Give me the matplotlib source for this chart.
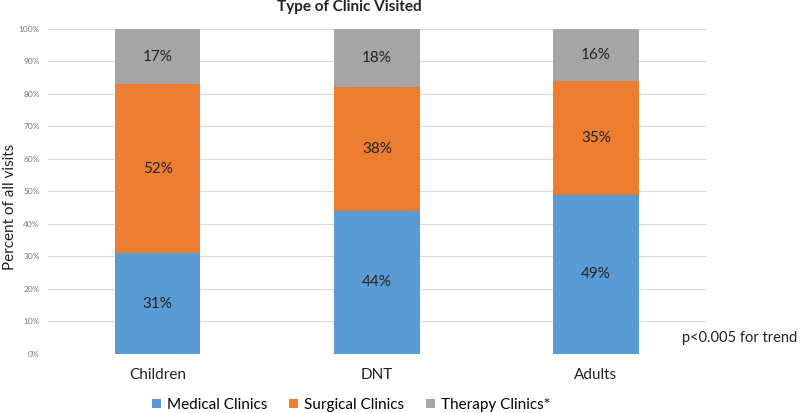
import matplotlib.pyplot as plt
import numpy as np

# data
groups = ['Children', 'DNT', 'Adults']
medical = [31, 44, 49]
surgical = [52, 38, 35]
therapy = [17, 18, 16]
series_names = ['Medical Clinics', 'Surgical Clinics', 'Therapy Clinics*']
colors = ['#5B9BD5', '#ED7D31', '#A5A5A5']

plt.rcParams['font.family'] = ['Lato', 'DejaVu Sans']

fig = plt.figure(figsize=(8, 4.13), dpi=100)
ax = fig.add_axes([0.06, 0.143, 0.822, 0.787])

x = np.arange(len(groups))
bottom = np.zeros(len(groups))
for name, vals, col in zip(series_names, [medical, surgical, therapy], colors):
    vals = np.array(vals, dtype=float)
    ax.bar(x, vals, 0.39, bottom=bottom, color=col, label=name, zorder=2)
    for xi, b, v in zip(x, bottom, vals):
        ax.text(xi, b + v / 2, f'{int(v)}%', ha='center', va='center',
                fontsize=11, color='#222222', zorder=3)
    bottom += vals

ax.set_xlim(-0.5, 2.5)
ax.set_ylim(0, 100)
ax.set_yticks(range(0, 101, 10))
ax.set_yticklabels([f'{v}%' for v in range(0, 101, 10)], fontsize=6, color='#777777')
ax.set_xticks(x)
ax.set_xticklabels(groups, fontsize=11, color='#222222')
ax.tick_params(axis='both', length=0)
ax.tick_params(axis='x', pad=10)
ax.tick_params(axis='y', pad=6)
ax.grid(axis='y', color='#D9D9D9', linewidth=0.8, zorder=0)
for s in ax.spines.values():
    s.set_visible(False)

# y label placed by hand so it stays inside the figure
fig.text(0.012, 0.5, 'Percent of all visits', rotation=90, ha='center', va='center',
         fontsize=11, color='#222222')
fig.text(0.437, 0.984, 'Type of Clinic Visited', ha='center', va='center',
         fontsize=11, fontweight='bold', color='#222222')
fig.text(0.852, 0.182, 'p<0.005 for trend', ha='left', va='center',
         fontsize=10.5, color='#222222')

fig.legend(loc='center', bbox_to_anchor=(0.439, 0.02), ncol=3, frameon=False,
           fontsize=11, handlelength=0.6, handleheight=0.6, columnspacing=1.4,
           handletextpad=0.4)

fig.savefig('out.png', dpi=100)
